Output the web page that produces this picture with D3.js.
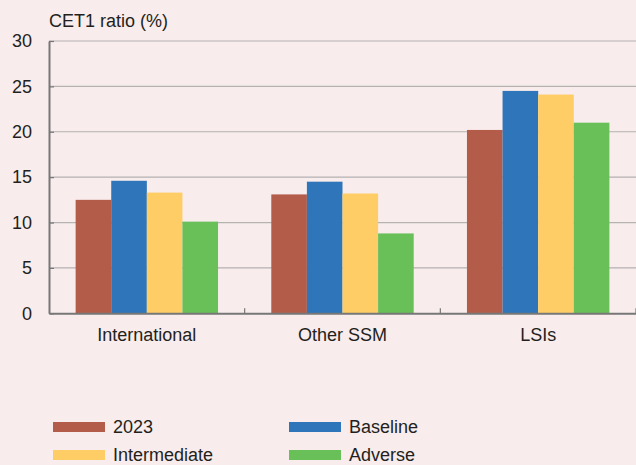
<!DOCTYPE html>
<html><head><meta charset="utf-8">
<script src="https://cdn.jsdelivr.net/npm/d3@7"></script>
<style>
body{margin:0;background:#F8ECEC;}
svg{display:block;font-family:"Liberation Sans",Arial,Helvetica,sans-serif;}
</style></head>
<body><svg id="c" width="636" height="465"></svg>
<script>
const categories = ["International", "Other SSM", "LSIs"];
const seriesNames = ["2023", "Baseline", "Intermediate", "Adverse"];
const v2023 = [12.5, 13.1, 20.2];
const vBaseline = [14.6, 14.5, 24.5];
const vIntermediate = [13.3, 13.2, 24.1];
const vAdverse = [10.1, 8.8, 21.0];
const yTicks = [0, 5, 10, 15, 20, 25, 30];
const colors = ["#B35C4A", "#2E75B9", "#FFCD66", "#69BF58"];

const seriesVals = [v2023, vBaseline, vIntermediate, vAdverse];
const svg = d3.select("#c");
const W = 636, H = 465;
svg.append("rect").attr("width", W).attr("height", H).attr("fill", "#F8ECEC");
const m = {l: 49, r: 0, t: 41, b: 152};
const x0 = d3.scaleBand().domain(categories).range([m.l, W - m.r]).paddingInner(0).paddingOuter(0);
const y = d3.scaleLinear().domain([0, 30]).range([313.3, 41]);
const gw = 142.4;
const x1 = d3.scaleBand().domain(seriesNames).range([0, gw]).padding(0);

// gridlines
svg.append("g").selectAll("line").data(yTicks.filter(d => d > 0)).join("line")
  .attr("x1", m.l).attr("x2", W).attr("y1", d => y(d)).attr("y2", d => y(d))
  .attr("stroke", "#B5B2B2").attr("stroke-width", 1.2);

// bars
const g = svg.append("g");
categories.forEach((c, ci) => {
  const gx = x0(c) + (x0.bandwidth() - gw) / 2;
  seriesNames.forEach((s, si) => {
    const v = seriesVals[si][ci];
    g.append("rect").attr("x", gx + x1(s)).attr("width", x1.bandwidth())
      .attr("y", y(v)).attr("height", y(0) - y(v)).attr("fill", colors[si]);
  });
});

// y axis
const ya = svg.append("g").attr("transform", `translate(${m.l},0)`)
  .call(d3.axisLeft(y).tickValues(yTicks).tickSize(0).tickPadding(17));
ya.select(".domain").attr("stroke", "#777").attr("stroke-width", 2);
ya.selectAll("text").attr("font-size", 18).attr("fill", "#231F20").attr("font-family", "Liberation Sans, Arial, sans-serif");
ya.selectAll(".tick").append("line").attr("x1", 0).attr("x2", 5).attr("stroke", "#777").attr("stroke-width", 1.2);

// x axis
const xa = svg.append("g").attr("transform", `translate(0,${y(0)})`)
  .call(d3.axisBottom(x0).tickSize(0).tickPadding(15));
xa.select(".domain").attr("stroke", "#777").attr("stroke-width", 2);
xa.selectAll("text").attr("font-size", 18).attr("fill", "#231F20").attr("font-family", "Liberation Sans, Arial, sans-serif");
svg.append("g").selectAll("line").data(categories).join("line")
  .attr("x1", d => x0(d) + x0.bandwidth()).attr("x2", d => x0(d) + x0.bandwidth())
  .attr("y1", y(0)).attr("y2", y(0) - 5).attr("stroke", "#777").attr("stroke-width", 1.2);

// title
svg.append("text").attr("x", 49).attr("y", 27).attr("font-size", 18).attr("fill", "#231F20").text("CET1 ratio (%)");

// legend
const lg = svg.append("g");
seriesNames.forEach((s, i) => {
  const col = i % 2, row = Math.floor(i / 2);
  const lx = 53 + col * 236, ly = 422 + row * 28;
  lg.append("rect").attr("x", lx).attr("y", ly).attr("width", 52).attr("height", 10).attr("fill", colors[i]);
  lg.append("text").attr("x", lx + 60).attr("y", ly + 11).attr("font-size", 18).attr("fill", "#231F20").text(s);
});
</script></body></html>
